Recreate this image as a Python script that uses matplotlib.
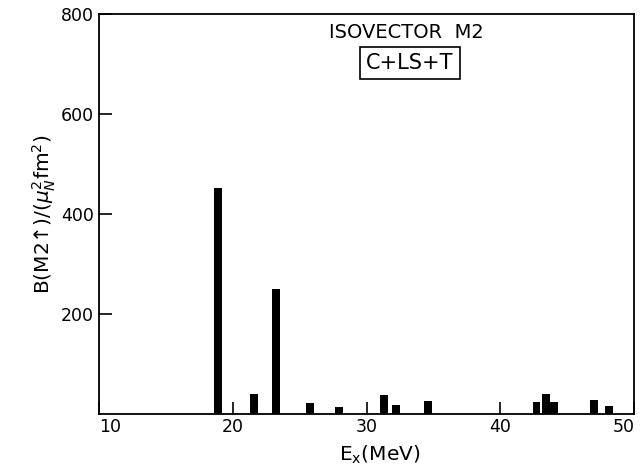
import matplotlib
matplotlib.use("Agg")
import matplotlib.pyplot as plt

# excitation energies (MeV) and B(M2) strengths
energy = [18.9, 21.6, 23.2, 25.75, 27.9, 31.3, 32.2, 34.6, 42.7, 43.4, 44.0, 47.0, 48.1]
strength = [452, 39, 250, 21, 13, 37, 18, 25, 23, 39, 24, 27, 16]

xticks = [10, 20, 30, 40, 50]
yticks = [200, 400, 600, 800]

plt.rcParams['font.family'] = ['DejaVu Sans']
plt.rcParams['mathtext.fontset'] = 'dejavusans'

fig = plt.figure(figsize=(6.4, 4.66), dpi=100)
ax = fig.add_axes([0.155, 0.112, 0.836, 0.858])

ax.bar(energy, strength, width=0.58, color="black", align="center")

ax.set_xlim(10, 50)
ax.set_ylim(0, 800)
ax.set_xticks(xticks)
ax.set_yticks(yticks)
ax.tick_params(direction="in", length=9, width=1.2, labelsize=12.5, pad=4)
ax.tick_params(axis="x", pad=3)
lbls = ax.get_xticklabels()
lbls[0].set_ha("left")
lbls[-1].set_ha("right")
for s in ax.spines.values():
    s.set_linewidth(1.3)

ax.set_xlabel(r"E$_\mathregular{x}$(MeV)", fontsize=14.5, labelpad=1)
ax.xaxis.set_label_coords(0.525, -0.075)
ax.set_ylabel(r"B(M2↑)/($\mu_N^2$fm$^2$)", fontsize=14.5, labelpad=2)

ax.text(0.574, 0.9525, "ISOVECTOR  M2", transform=ax.transAxes,
        ha="center", va="center", fontsize=14)
ax.text(0.581, 0.8775, "C+LS+T", transform=ax.transAxes,
        ha="center", va="center", fontsize=15,
        bbox=dict(boxstyle="square,pad=0.3", fc="white", ec="black", lw=1.2))

fig.savefig("out.png", dpi=100)
